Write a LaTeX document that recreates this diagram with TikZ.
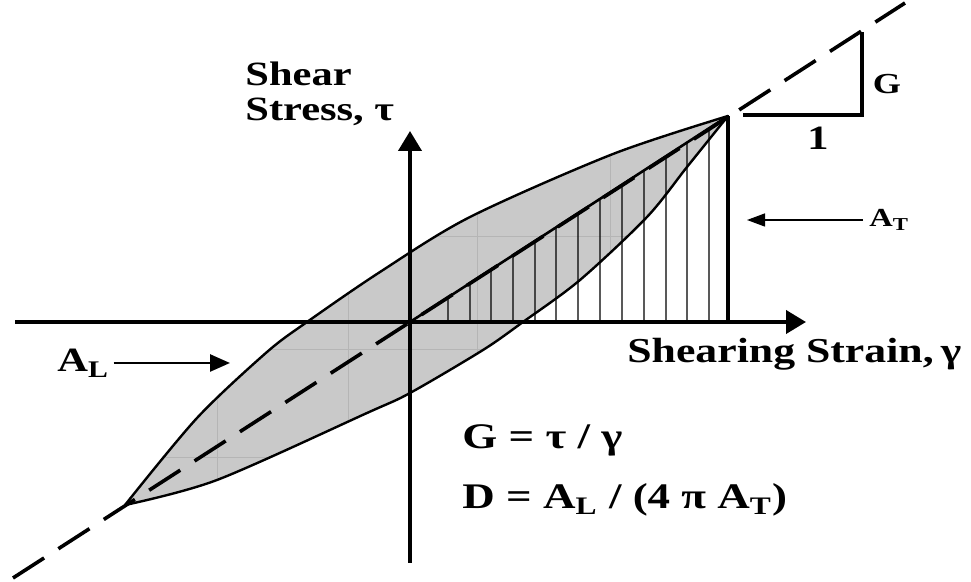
\documentclass[tikz,border=0pt]{standalone}
\usepackage{fontspec}
\setmainfont{Liberation Serif}
\usetikzlibrary{arrows.meta,calc}
\newcommand{\stretchtxt}[1]{\scalebox{1.25}[1]{#1}}
\definecolor{loopgray}{gray}{0.79}
\definecolor{gridgray}{gray}{0.71}
\begin{document}
\begin{tikzpicture}[x=0.5pt,y=-0.5pt,
  lbl/.style={inner sep=0pt, font=\bfseries\fontsize{17}{17.5}\selectfont},
  xlbl/.style={inner sep=0pt, font=\bfseries\fontsize{17.5}{18}\selectfont},
  eqlbl/.style={inner sep=0pt, font=\bfseries\fontsize{18}{20}\selectfont},
  smalllbl/.style={inner sep=0pt, font=\bfseries\fontsize{13}{15}\selectfont},
  glbl/.style={inner sep=0pt, font=\bfseries\fontsize{14.5}{16}\selectfont},
  axisline/.style={line width=2pt, -{Triangle[width=11.5pt,length=10pt]}},
  loopline/.style={line width=1.2pt, line join=round},
  hatchline/.style={line width=0.65pt},
  backbone/.style={line width=1.8pt, dash pattern=on 18.5pt off 8.5pt},
  labelarrow/.style={line width=1.3pt, -{Triangle[width=8.5pt,length=10pt]}},
  thinarrow/.style={line width=0.7pt, -{Triangle[width=6.5pt,length=9pt]}},
  slopeline/.style={line width=2pt, line join=miter}
]
\useasboundingbox (0,0) rectangle (971,582);
\coordinate (O) at (410,322);
\coordinate (P) at (728,116);
\coordinate (PB) at (728,322);
\coordinate (Q) at (125,505);
\def\looppath{plot[smooth,tension=0.5] coordinates {(125,505) (197,418) (267,352) (307,322) (380,272) (470,217) (613,154) (728,116)} -- plot[smooth,tension=0.5] coordinates {(728,116) (687,167) (647,217) (580,280) (523,322) (483,350) (410,393) (367,413) (217,480) (125,505)} -- cycle}
% loop fill
\fill[loopgray] \looppath;
\begin{scope}
  \clip \looppath;
  \foreach \gx in {217,348,477,610} \draw[gridgray, line width=0.5pt] (\gx,0) -- (\gx,582);
  \foreach \gy in {124,237,350,458} \draw[gridgray, line width=0.5pt] (0,\gy) -- (971,\gy);
\end{scope}
% hatching of A_T
\foreach \hx in {448,470,491,513,535,556,578,600,622,644,666,687,709}
  \draw[hatchline] (\hx,322) -- ($(O)!{(\hx-410)/318}!(P)$);
% loop outline
\draw[loopline] \looppath;
% backbone
\coordinate (DL) at (13,578);
\coordinate (DR) at (905,3);
\draw[backbone] (DL) -- (DR);
\draw[line width=1.3pt] (O) -- (P);
\draw[line width=1.7pt] (PB) -- (P);
% axes
\coordinate (XL) at (15,322);
\coordinate (XR) at (806,322);
\coordinate (YB) at (410,563);
\coordinate (YT) at (410,131);
\draw[axisline] (XL) -- (XR);
\draw[axisline] (YB) -- (YT);
% slope triangle
\coordinate (S1) at (743,115);
\coordinate (S2) at (862,115);
\coordinate (S3) at (862,32);
\draw[slopeline] (S1) -- (S2) -- (S3);
\node[glbl] (Glab) at (887,84) {\stretchtxt{G}};
\node[lbl, anchor=base] (one) at (818,150) {\stretchtxt{1}};
% axis labels
\node[lbl, anchor=base west] (ylab) at (245,86) {\stretchtxt{\begin{tabular}[t]{@{}l@{}}Shear\\Stress, τ\end{tabular}}};
\node[xlbl, anchor=base west] (xlab) at (627,363) {\stretchtxt{Shearing Strain,\,γ}};
% formulas
\node[eqlbl, anchor=base west] (eqG) at (462,449) {\stretchtxt{G = τ / γ}};
\node[eqlbl, anchor=base west] (eqD) at (462,509) {\stretchtxt{D = A\textsubscript{L} / (4 π A\textsubscript{T})}};
% area labels
\node[lbl, anchor=base west] (AL) at (57,372) {\stretchtxt{A\textsubscript{L}}};
\coordinate (ALtip) at (230,363);
\draw[labelarrow, shorten <=2pt] (ALtip -| AL.east) -- (ALtip);
\node[smalllbl, anchor=base west] (AT) at (869,227) {\stretchtxt{A\textsubscript{T}}};
\coordinate (ATtip) at (747,220);
\draw[thinarrow, shorten <=3pt] (ATtip -| AT.west) -- (ATtip);
\end{tikzpicture}
\end{document}
